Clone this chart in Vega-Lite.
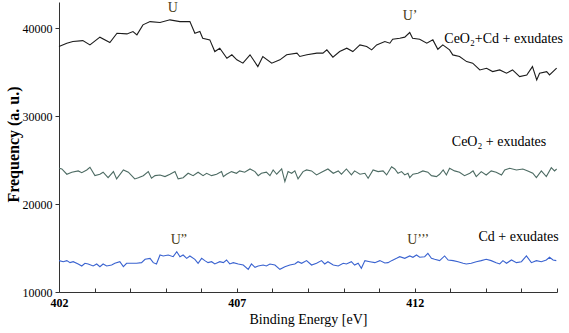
{
  "$schema": "https://vega.github.io/schema/vega-lite/v6.json",
  "width": 498,
  "height": 290,
  "autosize": {"type": "none"},
  "padding": {"left": 59, "top": 2, "right": 12, "bottom": 41},
  "background": "white",
  "config": {"view": {"stroke": null}, "font": "Liberation Serif", "axis": {"labelOverlap": false, "labelFlush": false}},
  "datasets": {
    "top": [
      {"e": 402.0, "v": 37930}, {"e": 402.22, "v": 38310}, {"e": 402.39, "v": 38500}, {"e": 402.67, "v": 38610}, {"e": 402.87, "v": 38120},
      {"e": 403.15, "v": 39000}, {"e": 403.43, "v": 38380}, {"e": 403.63, "v": 39450}, {"e": 403.91, "v": 39370}, {"e": 404.08, "v": 39640},
      {"e": 404.19, "v": 39260}, {"e": 404.36, "v": 40400}, {"e": 404.56, "v": 40770}, {"e": 404.84, "v": 40660}, {"e": 405.12, "v": 40970},
      {"e": 405.4, "v": 40770}, {"e": 405.68, "v": 40770}, {"e": 405.82, "v": 39450}, {"e": 405.96, "v": 39640}, {"e": 406.04, "v": 38880},
      {"e": 406.24, "v": 38690}, {"e": 406.38, "v": 37360}, {"e": 406.52, "v": 37740}, {"e": 406.72, "v": 36600}, {"e": 406.86, "v": 36990},
      {"e": 407.0, "v": 36420}, {"e": 407.17, "v": 36040}, {"e": 407.37, "v": 36990}, {"e": 407.59, "v": 35650}, {"e": 407.73, "v": 36800},
      {"e": 407.98, "v": 36040}, {"e": 408.21, "v": 36420}, {"e": 408.4, "v": 36990}, {"e": 408.69, "v": 37180}, {"e": 408.77, "v": 36800},
      {"e": 408.97, "v": 36990}, {"e": 409.25, "v": 37180}, {"e": 409.42, "v": 37180}, {"e": 409.53, "v": 37550}, {"e": 409.7, "v": 36720},
      {"e": 409.89, "v": 37360}, {"e": 410.09, "v": 37740}, {"e": 410.26, "v": 37360}, {"e": 410.46, "v": 38120}, {"e": 410.65, "v": 37930},
      {"e": 410.79, "v": 37550}, {"e": 410.93, "v": 38120}, {"e": 411.16, "v": 38500}, {"e": 411.3, "v": 38310}, {"e": 411.38, "v": 38770},
      {"e": 411.58, "v": 38880}, {"e": 411.72, "v": 39000}, {"e": 411.86, "v": 39530}, {"e": 411.94, "v": 38880}, {"e": 412.14, "v": 38770},
      {"e": 412.34, "v": 38310}, {"e": 412.51, "v": 38690}, {"e": 412.65, "v": 37620}, {"e": 412.79, "v": 38120}, {"e": 412.98, "v": 37550},
      {"e": 413.07, "v": 36980}, {"e": 413.26, "v": 36790}, {"e": 413.46, "v": 36220}, {"e": 413.63, "v": 36040}, {"e": 413.83, "v": 35270},
      {"e": 414.02, "v": 35460}, {"e": 414.19, "v": 35080}, {"e": 414.39, "v": 35270}, {"e": 414.58, "v": 34900}, {"e": 414.75, "v": 35270},
      {"e": 414.95, "v": 34510}, {"e": 415.15, "v": 34700}, {"e": 415.31, "v": 35650}, {"e": 415.43, "v": 34140}, {"e": 415.51, "v": 34900},
      {"e": 415.71, "v": 35080}, {"e": 415.79, "v": 34700}, {"e": 415.99, "v": 35470}
    ],
    "mid": [
      {"e": 402.0, "v": 24080}, {"e": 402.08, "v": 24000}, {"e": 402.22, "v": 23400}, {"e": 402.36, "v": 23630}, {"e": 402.54, "v": 23780},
      {"e": 402.64, "v": 23580}, {"e": 402.78, "v": 23890}, {"e": 402.87, "v": 24190}, {"e": 403.01, "v": 23240}, {"e": 403.15, "v": 23400},
      {"e": 403.24, "v": 23630}, {"e": 403.38, "v": 23010}, {"e": 403.53, "v": 23700}, {"e": 403.62, "v": 22870}, {"e": 403.81, "v": 23890},
      {"e": 403.95, "v": 23630}, {"e": 404.13, "v": 22870}, {"e": 404.23, "v": 23010}, {"e": 404.37, "v": 23240}, {"e": 404.51, "v": 23700},
      {"e": 404.6, "v": 22940}, {"e": 404.7, "v": 23240}, {"e": 404.84, "v": 23320}, {"e": 404.98, "v": 23130}, {"e": 405.12, "v": 23400},
      {"e": 405.26, "v": 23700}, {"e": 405.35, "v": 22870}, {"e": 405.49, "v": 23010}, {"e": 405.63, "v": 23510}, {"e": 405.77, "v": 23240},
      {"e": 405.91, "v": 23630}, {"e": 406.05, "v": 23240}, {"e": 406.15, "v": 23510}, {"e": 406.29, "v": 23240}, {"e": 406.43, "v": 23400},
      {"e": 406.57, "v": 23700}, {"e": 406.62, "v": 23130}, {"e": 406.71, "v": 23400}, {"e": 406.85, "v": 23700}, {"e": 406.99, "v": 23510},
      {"e": 407.08, "v": 23780}, {"e": 407.22, "v": 23630}, {"e": 407.37, "v": 24000}, {"e": 407.51, "v": 23700}, {"e": 407.6, "v": 23240},
      {"e": 407.69, "v": 23510}, {"e": 407.83, "v": 23630}, {"e": 407.93, "v": 23240}, {"e": 408.02, "v": 23890}, {"e": 408.12, "v": 23400},
      {"e": 408.26, "v": 24000}, {"e": 408.35, "v": 22560}, {"e": 408.44, "v": 23700}, {"e": 408.54, "v": 23510}, {"e": 408.63, "v": 23780},
      {"e": 408.72, "v": 22870}, {"e": 408.86, "v": 23700}, {"e": 408.96, "v": 23890}, {"e": 409.1, "v": 23780}, {"e": 409.24, "v": 23320},
      {"e": 409.38, "v": 23630}, {"e": 409.56, "v": 24000}, {"e": 409.71, "v": 23510}, {"e": 409.85, "v": 23780}, {"e": 409.94, "v": 23400},
      {"e": 410.08, "v": 24000}, {"e": 410.22, "v": 23320}, {"e": 410.31, "v": 23780}, {"e": 410.46, "v": 23400}, {"e": 410.6, "v": 23510},
      {"e": 410.69, "v": 22940}, {"e": 410.83, "v": 23890}, {"e": 410.97, "v": 23700}, {"e": 411.11, "v": 23780}, {"e": 411.21, "v": 23320},
      {"e": 411.35, "v": 24260}, {"e": 411.44, "v": 24000}, {"e": 411.53, "v": 23510}, {"e": 411.63, "v": 23700}, {"e": 411.72, "v": 23320},
      {"e": 411.81, "v": 23510}, {"e": 411.86, "v": 23010}, {"e": 411.95, "v": 23400}, {"e": 412.09, "v": 23510}, {"e": 412.23, "v": 23780},
      {"e": 412.37, "v": 23630}, {"e": 412.47, "v": 23240}, {"e": 412.61, "v": 23130}, {"e": 412.7, "v": 23400}, {"e": 412.8, "v": 23890},
      {"e": 412.89, "v": 23320}, {"e": 412.98, "v": 24080}, {"e": 413.12, "v": 23780}, {"e": 413.26, "v": 23630}, {"e": 413.4, "v": 23240},
      {"e": 413.55, "v": 23510}, {"e": 413.64, "v": 23780}, {"e": 413.73, "v": 23130}, {"e": 413.87, "v": 23700}, {"e": 414.01, "v": 23320},
      {"e": 414.15, "v": 23780}, {"e": 414.29, "v": 23630}, {"e": 414.44, "v": 23320}, {"e": 414.53, "v": 23890}, {"e": 414.67, "v": 24080},
      {"e": 414.86, "v": 23890}, {"e": 415.04, "v": 24000}, {"e": 415.18, "v": 23780}, {"e": 415.32, "v": 23510}, {"e": 415.42, "v": 23010},
      {"e": 415.56, "v": 23780}, {"e": 415.7, "v": 23130}, {"e": 415.84, "v": 24150}, {"e": 415.93, "v": 23780}, {"e": 415.99, "v": 24000}
    ],
    "low": [
      {"e": 402.0, "v": 13570}, {"e": 402.12, "v": 13450}, {"e": 402.22, "v": 13570}, {"e": 402.31, "v": 13340}, {"e": 402.4, "v": 13450},
      {"e": 402.54, "v": 13190}, {"e": 402.64, "v": 12960}, {"e": 402.73, "v": 13270}, {"e": 402.82, "v": 13190}, {"e": 402.96, "v": 12960},
      {"e": 403.06, "v": 13190}, {"e": 403.15, "v": 12880}, {"e": 403.24, "v": 13190}, {"e": 403.34, "v": 12960}, {"e": 403.48, "v": 13070},
      {"e": 403.57, "v": 13270}, {"e": 403.71, "v": 13450}, {"e": 403.81, "v": 12880}, {"e": 403.9, "v": 13270}, {"e": 404.04, "v": 13270},
      {"e": 404.18, "v": 13270}, {"e": 404.32, "v": 13340}, {"e": 404.42, "v": 13720}, {"e": 404.56, "v": 13830}, {"e": 404.65, "v": 13340},
      {"e": 404.74, "v": 13190}, {"e": 404.84, "v": 14210}, {"e": 404.93, "v": 14100}, {"e": 405.07, "v": 14210}, {"e": 405.21, "v": 14020},
      {"e": 405.31, "v": 14590}, {"e": 405.4, "v": 14020}, {"e": 405.49, "v": 14210}, {"e": 405.59, "v": 13830}, {"e": 405.68, "v": 14100},
      {"e": 405.82, "v": 13720}, {"e": 405.91, "v": 13270}, {"e": 406.01, "v": 13830}, {"e": 406.1, "v": 13570}, {"e": 406.19, "v": 13340},
      {"e": 406.29, "v": 13450}, {"e": 406.38, "v": 13190}, {"e": 406.52, "v": 13450}, {"e": 406.62, "v": 13340}, {"e": 406.71, "v": 13640},
      {"e": 406.8, "v": 13190}, {"e": 406.9, "v": 13340}, {"e": 407.04, "v": 13190}, {"e": 407.18, "v": 13070}, {"e": 407.32, "v": 12580},
      {"e": 407.41, "v": 13190}, {"e": 407.51, "v": 12810}, {"e": 407.6, "v": 12960}, {"e": 407.74, "v": 13070}, {"e": 407.83, "v": 12960},
      {"e": 407.93, "v": 13190}, {"e": 408.07, "v": 13070}, {"e": 408.21, "v": 12580}, {"e": 408.35, "v": 12880}, {"e": 408.49, "v": 13070},
      {"e": 408.63, "v": 13190}, {"e": 408.72, "v": 13450}, {"e": 408.82, "v": 13270}, {"e": 408.96, "v": 13570}, {"e": 409.1, "v": 13070},
      {"e": 409.24, "v": 13270}, {"e": 409.38, "v": 13570}, {"e": 409.47, "v": 13190}, {"e": 409.56, "v": 13450}, {"e": 409.71, "v": 13070},
      {"e": 409.85, "v": 12960}, {"e": 409.99, "v": 13270}, {"e": 410.08, "v": 13190}, {"e": 410.22, "v": 13450}, {"e": 410.31, "v": 13070},
      {"e": 410.41, "v": 13270}, {"e": 410.5, "v": 12700}, {"e": 410.6, "v": 13570}, {"e": 410.74, "v": 13450}, {"e": 410.88, "v": 13340},
      {"e": 411.02, "v": 13570}, {"e": 411.16, "v": 13300}, {"e": 411.25, "v": 13340}, {"e": 411.35, "v": 13570}, {"e": 411.49, "v": 13830},
      {"e": 411.58, "v": 14020}, {"e": 411.72, "v": 13830}, {"e": 411.86, "v": 14100}, {"e": 411.95, "v": 13950}, {"e": 412.05, "v": 14210},
      {"e": 412.14, "v": 13950}, {"e": 412.28, "v": 14020}, {"e": 412.37, "v": 14400}, {"e": 412.47, "v": 13830}, {"e": 412.56, "v": 13720},
      {"e": 412.7, "v": 13570}, {"e": 412.84, "v": 14100}, {"e": 412.94, "v": 13640}, {"e": 413.08, "v": 13570}, {"e": 413.22, "v": 13450},
      {"e": 413.36, "v": 13270}, {"e": 413.45, "v": 13190}, {"e": 413.59, "v": 13270}, {"e": 413.73, "v": 13450}, {"e": 413.87, "v": 13570},
      {"e": 414.01, "v": 13720}, {"e": 414.15, "v": 13570}, {"e": 414.29, "v": 13340}, {"e": 414.39, "v": 13190}, {"e": 414.48, "v": 13570},
      {"e": 414.58, "v": 13270}, {"e": 414.72, "v": 13640}, {"e": 414.86, "v": 13340}, {"e": 415.0, "v": 13450}, {"e": 415.14, "v": 14100},
      {"e": 415.28, "v": 13340}, {"e": 415.42, "v": 13570}, {"e": 415.56, "v": 13450}, {"e": 415.7, "v": 13640}, {"e": 415.79, "v": 13950},
      {"e": 415.89, "v": 13640}, {"e": 415.98, "v": 13570}
    ],
    "peaks": [
      {"e": 405.2, "v": 42300, "t": "U"},
      {"e": 411.87, "v": 41400, "t": "U’"},
      {"e": 405.37, "v": 15950, "t": "U”"},
      {"e": 412.1, "v": 15950, "t": "U’’’"}
    ],
    "names": [
      {"e": 414.5, "v": 38800, "t": "CeO₂+Cd + exudates"},
      {"e": 414.37, "v": 27050, "t": "CeO₂ + exudates"},
      {"e": 414.92, "v": 16250, "t": "Cd + exudates"}
    ]
  },
  "encoding": {
    "x": {
      "field": "e", "type": "quantitative",
      "scale": {"domain": [402, 416], "nice": false, "zero": false},
      "axis": {
        "title": "Binding Energy [eV]",
        "titleFont": "Liberation Serif", "titleFontSize": 14, "titleFontWeight": "normal", "titleColor": "#000",
        "titlePadding": 4,
        "values": [402, 403, 404, 405, 406, 407, 408, 409, 410, 411, 412, 413, 414, 415, 416],
        "labelExpr": "(datum.value == 402 || datum.value == 407 || datum.value == 412) ? datum.label : ''",
        "labelOverlap": false,
        "labelFlush": false,
        "labelFont": "Liberation Serif", "labelFontSize": 12, "labelFontWeight": "bold", "labelColor": "#000",
        "labelPadding": 9,
        "tickSize": -4, "tickColor": "#333", "domainColor": "#333", "grid": false
      }
    },
    "y": {
      "field": "v", "type": "quantitative",
      "scale": {"domain": [10000, 43000], "nice": false, "zero": false},
      "axis": {
        "title": "Frequency (a. u.)",
        "titleFont": "Liberation Serif", "titleFontSize": 16, "titleFontWeight": "bold", "titleColor": "#000",
        "titlePadding": 1,
        "titleY": 142,
        "values": [10000, 20000, 30000, 40000],
        "format": "d",
        "labelOverlap": false,
        "labelFlush": false,
        "labelFont": "Liberation Serif", "labelFontSize": 12, "labelColor": "#000",
        "labelPadding": 3,
        "tickSize": 4, "tickColor": "#333", "domainColor": "#333", "grid": false
      }
    }
  },
  "layer": [
    {"data": {"name": "top"}, "mark": {"type": "line", "color": "#1c1c1c", "strokeWidth": 1.1}},
    {"data": {"name": "mid"}, "mark": {"type": "line", "color": "#4d6b63", "strokeWidth": 1.1}},
    {"data": {"name": "low"}, "mark": {"type": "line", "color": "#3a63d0", "strokeWidth": 1.1}},
    {
      "data": {"name": "peaks"},
      "mark": {"type": "text", "font": "Liberation Serif", "fontSize": 14, "color": "#4a4020", "align": "center", "baseline": "middle"},
      "encoding": {"text": {"field": "t"}}
    },
    {
      "data": {"name": "names"},
      "mark": {"type": "text", "font": "Liberation Serif", "fontSize": 14, "color": "#000", "align": "center", "baseline": "middle"},
      "encoding": {"text": {"field": "t"}}
    }
  ]
}
